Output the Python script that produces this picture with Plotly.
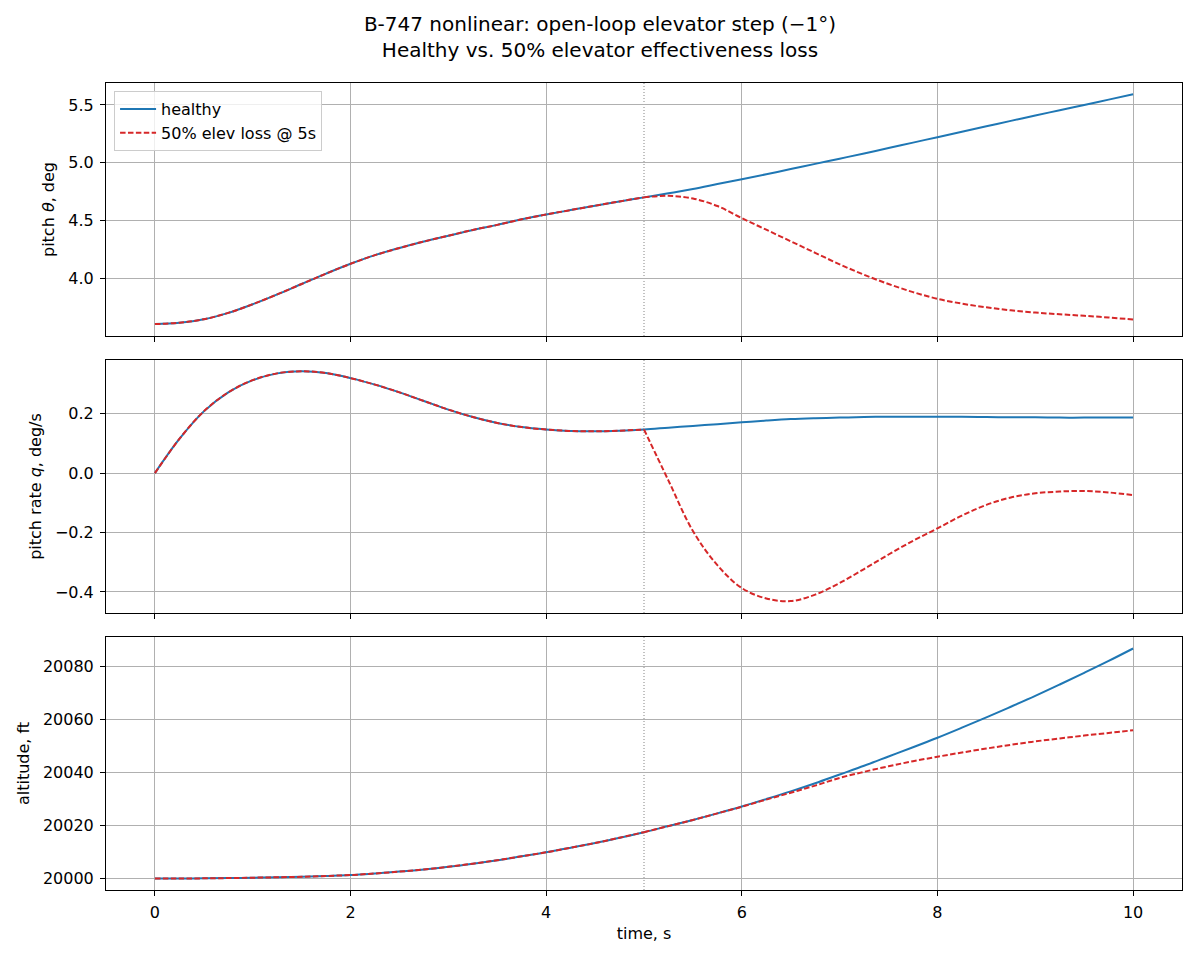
import plotly.graph_objects as go
from plotly.subplots import make_subplots

# ---- data ----
time_s = [0.0, 0.25, 0.5, 0.75, 1.0, 1.25, 1.5, 1.75, 2.0, 2.25, 2.5, 2.75, 3.0, 3.25, 3.5, 3.75,
          4.0, 4.25, 4.5, 4.75, 5.0, 5.25, 5.5, 5.75, 6.0, 6.25, 6.5, 6.75, 7.0, 7.25, 7.5, 7.75,
          8.0, 8.25, 8.5, 8.75, 9.0, 9.25, 9.5, 9.75, 10.0]

theta_healthy = [3.603, 3.615, 3.645, 3.700, 3.775, 3.860, 3.950, 4.040, 4.125, 4.200, 4.262,
                 4.318, 4.368, 4.418, 4.462, 4.510, 4.552, 4.590, 4.628, 4.665, 4.700, 4.735,
                 4.773, 4.815, 4.857, 4.900, 4.945, 4.990, 5.035, 5.080, 5.127, 5.174, 5.221,
                 5.268, 5.315, 5.362, 5.408, 5.455, 5.500, 5.546, 5.592]
theta_loss = [3.603, 3.615, 3.645, 3.700, 3.775, 3.860, 3.950, 4.040, 4.125, 4.200, 4.262,
              4.318, 4.368, 4.418, 4.462, 4.510, 4.552, 4.590, 4.628, 4.665, 4.700, 4.713,
              4.690, 4.625, 4.520, 4.420, 4.320, 4.220, 4.120, 4.030, 3.950, 3.880, 3.822,
              3.780, 3.748, 3.722, 3.703, 3.688, 3.675, 3.660, 3.643]

q_healthy = [0.0, 0.115, 0.208, 0.272, 0.313, 0.336, 0.343, 0.337, 0.320, 0.298, 0.272, 0.243,
             0.214, 0.189, 0.169, 0.155, 0.147, 0.142, 0.141, 0.143, 0.147, 0.153, 0.159, 0.165,
             0.171, 0.177, 0.182, 0.185, 0.187, 0.189, 0.190, 0.190, 0.190, 0.190, 0.189, 0.188,
             0.188, 0.187, 0.187, 0.187, 0.187]
q_loss = [0.0, 0.115, 0.208, 0.272, 0.313, 0.336, 0.343, 0.337, 0.320, 0.298, 0.272, 0.243,
          0.214, 0.189, 0.169, 0.155, 0.147, 0.142, 0.141, 0.143, 0.147, -0.025, -0.195, -0.310,
          -0.387, -0.422, -0.431, -0.409, -0.370, -0.323, -0.274, -0.228, -0.186, -0.143, -0.107,
          -0.082, -0.068, -0.062, -0.060, -0.065, -0.074]

alt_healthy = [20000.0, 20000.0, 20000.05, 20000.15, 20000.3, 20000.45, 20000.65, 20000.95,
               20001.3, 20001.9, 20002.6, 20003.4, 20004.4, 20005.6, 20006.9, 20008.4, 20009.9,
               20011.6, 20013.4, 20015.4, 20017.5, 20019.8, 20022.1, 20024.6, 20027.2, 20030.0,
               20032.9, 20036.0, 20039.3, 20042.6, 20046.1, 20049.6, 20053.2, 20057.0, 20060.9,
               20064.9, 20069.0, 20073.3, 20077.7, 20082.2, 20086.9]
alt_loss = [20000.0, 20000.0, 20000.05, 20000.15, 20000.3, 20000.45, 20000.65, 20000.95,
            20001.3, 20001.9, 20002.6, 20003.4, 20004.4, 20005.6, 20006.9, 20008.4, 20009.9,
            20011.6, 20013.4, 20015.4, 20017.5, 20019.8, 20022.1, 20024.6, 20027.1, 20029.8,
            20032.4, 20035.1, 20038.0, 20040.3, 20042.4, 20044.3, 20046.0, 20047.6, 20049.1,
            20050.5, 20051.8, 20052.9, 20054.0, 20055.0, 20056.0]

fault_time = 5.0

x_ticks = [0, 2, 4, 6, 8, 10]
theta_ticks = [4.0, 4.5, 5.0, 5.5]
theta_ticktext = ["4.0", "4.5", "5.0", "5.5"]
q_ticks = [-0.4, -0.2, 0.0, 0.2]
q_ticktext = ["\u22120.4", "\u22120.2", "0.0", "0.2"]
alt_ticks = [20000, 20020, 20040, 20060, 20080]
alt_ticktext = ["20000", "20020", "20040", "20060", "20080"]

series_names = ["healthy", "50% elev loss @ 5s"]
ylabels = ["pitch <i>θ</i>, deg", "pitch rate <i>q</i>, deg/s", "altitude, ft"]
title_text = "B-747 nonlinear: open-loop elevator step (\u22121°)<br>Healthy vs. 50% elevator effectiveness loss"

BLUE = "#1f77b4"
RED = "#d62728"
FONT = "DejaVu Sans"
FS = 16
DASH = "5.5px,2.4px"

fig = make_subplots(rows=3, cols=1, shared_xaxes=True, vertical_spacing=24 / 807)

panels = [
    (theta_healthy, theta_loss, [3.50, 5.69], theta_ticks, theta_ticktext),
    (q_healthy, q_loss, [-0.471, 0.381], q_ticks, q_ticktext),
    (alt_healthy, alt_loss, [19995.65, 20091.25], alt_ticks, alt_ticktext),
]

k = time_s.index(fault_time)

for i, (yh, yl, yr, tv, tt) in enumerate(panels, start=1):
    fig.add_trace(go.Scatter(x=time_s, y=yh, mode="lines", name=series_names[0],
                             line=dict(color=BLUE, width=2, shape="spline", smoothing=1.0),
                             showlegend=(i == 1)), row=i, col=1)
    # faulted run: identical before the fault, then its own branch
    fig.add_trace(go.Scatter(x=time_s[:k + 1], y=yl[:k + 1], mode="lines", name=series_names[1],
                             legendgroup="loss",
                             line=dict(color=RED, width=2, dash=DASH, shape="spline", smoothing=1.0),
                             showlegend=(i == 1)), row=i, col=1)
    fig.add_trace(go.Scatter(x=time_s[k:], y=yl[k:], mode="lines", name=series_names[1],
                             legendgroup="loss",
                             line=dict(color=RED, width=2, dash=DASH, shape="spline", smoothing=1.0),
                             showlegend=False), row=i, col=1)
    fig.update_yaxes(range=yr, tickvals=tv, ticktext=tt, row=i, col=1,
                     title=dict(text=ylabels[i - 1], standoff=9, font=dict(size=FS, family=FONT, color="black")))
    fig.add_vline(x=fault_time, line=dict(color="#666666", width=0.8, dash="1px,2px"), row=i, col=1, layer="below")

axis_common = dict(showline=True, linecolor="black", linewidth=1, mirror=True,
                   showgrid=True, gridcolor="#b0b0b0", gridwidth=0.8, zeroline=False,
                   ticks="outside", ticklen=5, tickcolor="black", tickwidth=1,
                   ticklabelstandoff=3,
                   tickfont=dict(size=FS, family=FONT, color="black"))
fig.update_xaxes(**axis_common, range=[-0.5, 10.5], tickvals=x_ticks)
fig.update_yaxes(**axis_common)
fig.update_xaxes(title=dict(text="time, s", standoff=6, font=dict(size=FS, family=FONT, color="black")),
                 row=3, col=1)

fig.update_layout(
    width=1200, height=960,
    margin=dict(l=106, r=18, t=83, b=70),
    paper_bgcolor="white", plot_bgcolor="white",
    font=dict(family=FONT, size=FS, color="black"),
    title=dict(text=title_text, x=0.5, xref="container", xanchor="center",
               y=1 - 31 / 960, yref="container", yanchor="top",
               font=dict(size=20, family=FONT, color="black")),
    legend=dict(x=0.0075, y=0.99, xanchor="left", yanchor="top",
                bgcolor="rgba(255,255,255,0.8)", bordercolor="#cccccc", borderwidth=1,
                font=dict(size=FS, family=FONT, color="black"), tracegroupgap=0,
                itemwidth=36),
)

fig.write_html("out.html")
